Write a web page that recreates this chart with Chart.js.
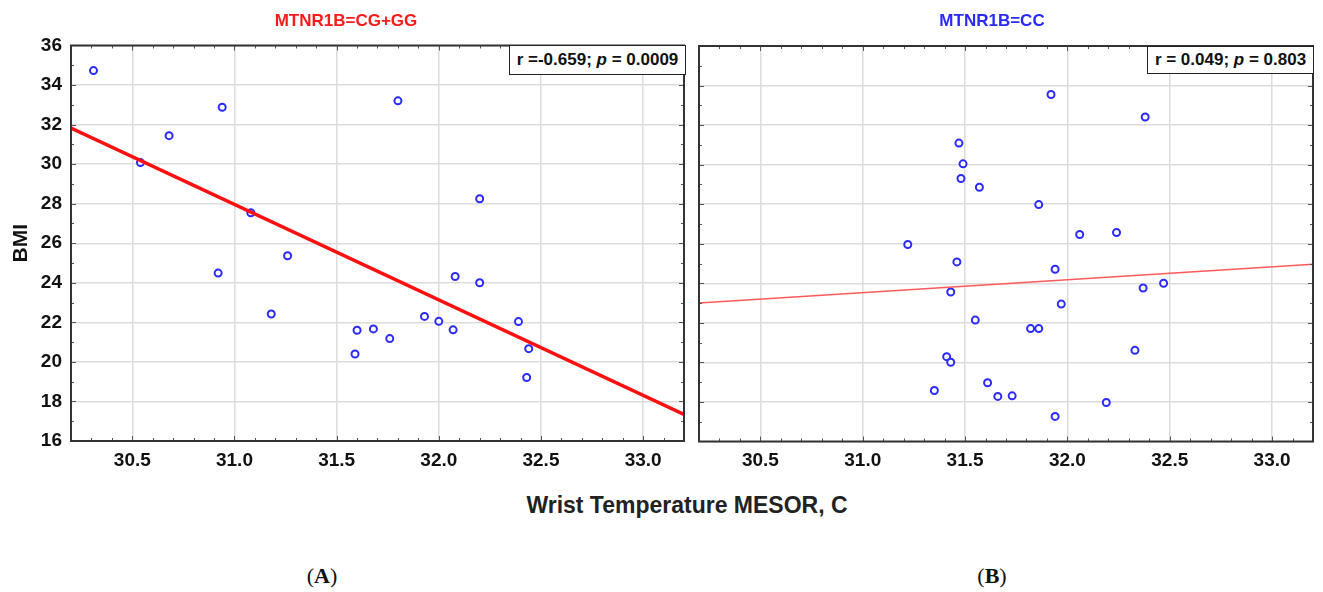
<!DOCTYPE html>
<html>
<head>
<meta charset="utf-8">
<script src="https://cdn.jsdelivr.net/npm/chart.js@4.4.1/dist/chart.umd.min.js"></script>
<style>
  body { margin: 0; background: #fff; width: 1323px; height: 592px; position: relative; overflow: hidden;
         font-family: "Liberation Sans", Arial, sans-serif; }
  canvas { position: absolute; top: 0; display: block; }
  #chart-a { left: 0; }
  #chart-b { left: 690px; }
  .panel-title { position: absolute; top: 11px; font-size: 17px; font-weight: bold; transform: translateX(-50%); white-space: nowrap; }
  .stat { position: absolute; background: #fff; border: 1.5px solid #222; font-size: 17px; font-weight: bold;
          color: #111; box-sizing: border-box; text-align: center; white-space: nowrap; }
  .x-title { position: absolute; left: 687px; top: 492px; transform: translateX(-50%); font-size: 23px; font-weight: bold; color: #222; white-space: nowrap; }
  .label { position: absolute; top: 563px; transform: translateX(-50%); font-family: "Liberation Serif", "DejaVu Serif", serif; font-size: 22px; color: #111; }
</style>
</head>
<body>
<canvas id="chart-a" width="690" height="480"></canvas>
<canvas id="chart-b" width="633" height="480"></canvas>

<div class="panel-title" style="left:346px; color:#ff1a1a;">MTNR1B=CG+GG</div>
<div class="panel-title" style="left:992px; color:#2a2aff;">MTNR1B=CC</div>

<div class="stat" style="left:509px; top:45px; width:177px; height:30px; line-height:27px;">r =-0.659; <i>p</i> = 0.0009</div>
<div class="stat" style="left:1147px; top:46px; width:167px; height:28px; line-height:25px;">r = 0.049; <i>p</i> = 0.803</div>

<div class="x-title">Wrist Temperature MESOR, C</div>
<div class="label" style="left:322px;">(<b>A</b>)</div>
<div class="label" style="left:992px;">(<b>B</b>)</div>

<script>
const xTicks = [30.5, 31.0, 31.5, 32.0, 32.5, 33.0];
const xMin = 30.2, xMax = 33.2;
const yMin = 16, yMax = 36;

// MTNR1B = CG+GG
const tempA = [30.31, 30.68, 30.54, 30.94, 31.08, 30.92, 31.26, 31.18, 31.60, 31.68, 31.59,
               31.80, 32.20, 32.08, 32.20, 31.93, 32.00, 32.07, 31.76, 32.39, 32.44, 32.43];
const bmiA  = [34.73, 31.44, 30.08, 32.88, 27.54, 24.49, 25.37, 22.42, 21.60, 21.67, 20.40,
               33.20, 28.25, 24.32, 24.00, 22.30, 22.05, 21.62, 21.18, 22.04, 20.67, 19.21];
const fitAx = [30.2, 33.2];
const fitAy = [31.82, 17.34];

// MTNR1B = CC
const tempB = [31.92, 32.38, 31.47, 31.49, 31.48, 31.57, 31.22, 31.46, 31.86, 32.06, 32.24, 31.43, 31.55, 31.41,
               31.43, 31.35, 31.61, 31.66, 31.73, 31.94, 31.97, 31.82, 31.86, 32.37, 32.47, 32.33, 32.19, 31.94];
const bmiB  = [33.55, 32.41, 31.09, 30.04, 29.30, 28.86, 25.96, 25.08, 27.98, 26.47, 26.57, 23.56, 22.14, 20.29,
               20.01, 18.58, 18.97, 18.28, 18.31, 24.71, 22.95, 21.71, 21.71, 23.76, 24.00, 20.61, 17.97, 17.27];
const fitBx = [30.2, 33.2];
const fitBy = [23.00, 24.96];

const zip = (xs, ys) => xs.map((x, i) => ({ x, y: ys[i] }));

// inward minor ticks + panel frame
const frameTicks = {
  id: 'frameTicks',
  afterDraw(chart) {
    const { ctx, chartArea: a, scales: { x, y } } = chart;
    ctx.save();
    ctx.strokeStyle = '#555';
    ctx.lineWidth = 1;
    ctx.beginPath();
    for (let i = 303; i <= 331; i++) {
      const px = Math.round(x.getPixelForValue(i / 10)) + 0.5;
      const len = i % 5 === 0 ? 5 : 3;
      ctx.moveTo(px, a.bottom); ctx.lineTo(px, a.bottom - len);
      ctx.moveTo(px, a.top);    ctx.lineTo(px, a.top + len);
    }
    for (let v = yMin + 1; v < yMax; v++) {
      const py = Math.round(y.getPixelForValue(v)) + 0.5;
      const len = v % 2 === 0 ? 5 : 3;
      ctx.moveTo(a.left, py);  ctx.lineTo(a.left + len, py);
      ctx.moveTo(a.right, py); ctx.lineTo(a.right - len, py);
    }
    ctx.stroke();
    ctx.strokeStyle = '#333';
    ctx.lineWidth = 2;
    ctx.strokeRect(a.left, a.top, a.right - a.left, a.bottom - a.top);
    ctx.restore();
  }
};

function makePanel(id, pts, fit, fitStyle, opts) {
  const ctx = document.getElementById(id).getContext('2d');
  return new Chart(ctx, {
    type: 'scatter',
    data: {
      datasets: [
        {
          data: pts,
          pointRadius: 3.5,
          pointBorderWidth: 2,
          pointBorderColor: '#2b2bff',
          pointBackgroundColor: '#fff',
          order: 1,
        },
        {
          type: 'line',
          data: fit,
          borderColor: fitStyle.color,
          borderWidth: fitStyle.width,
          pointRadius: 0,
          fill: false,
          order: 0,
        },
      ]
    },
    options: {
      responsive: false,
      animation: false,
      events: [],
      layout: { padding: { top: opts.top, right: opts.right, left: 0, bottom: 0 } },
      plugins: { legend: { display: false }, tooltip: { enabled: false } },
      scales: {
        x: {
          type: 'linear',
          min: xMin, max: xMax,
          afterBuildTicks: s => { s.ticks = xTicks.map(v => ({ value: v })); },
          afterFit: s => { s.height = 480 - opts.bottom; },
          ticks: {
            color: '#111',
            font: { family: 'Liberation Sans', size: 19, weight: 'bold' },
            padding: 8,
            callback: v => v.toFixed(1),
          },
          grid: { color: '#dcdcdc', lineWidth: 1.5, drawTicks: false },
          border: { display: false },
        },
        y: {
          min: yMin, max: yMax,
          afterFit: s => { s.width = opts.left; },
          ticks: {
            display: opts.yLabels,
            stepSize: 2,
            color: '#111',
            font: { family: 'Liberation Sans', size: 19, weight: 'bold' },
            padding: 9,
          },
          title: {
            display: opts.yLabels,
            text: 'BMI',
            color: '#111',
            font: { family: 'Liberation Sans', size: 21, weight: 'bold' },
            padding: { top: 9, bottom: 0 },
          },
          grid: { color: '#dcdcdc', lineWidth: 1.5, drawTicks: false },
          border: { display: false },
        },
      },
    },
    plugins: [frameTicks],
  });
}

makePanel('chart-a', zip(tempA, bmiA), zip(fitAx, fitAy), { color: '#ff1010', width: 3.5 },
  { left: 71, right: 4.5, top: 45.5, bottom: 441, yLabels: true });
makePanel('chart-b', zip(tempB, bmiB), zip(fitBx, fitBy), { color: '#ff5a5a', width: 1.5 },
  { left: 9, right: 10, top: 46, bottom: 441.5, yLabels: false });
</script>
</body>
</html>
